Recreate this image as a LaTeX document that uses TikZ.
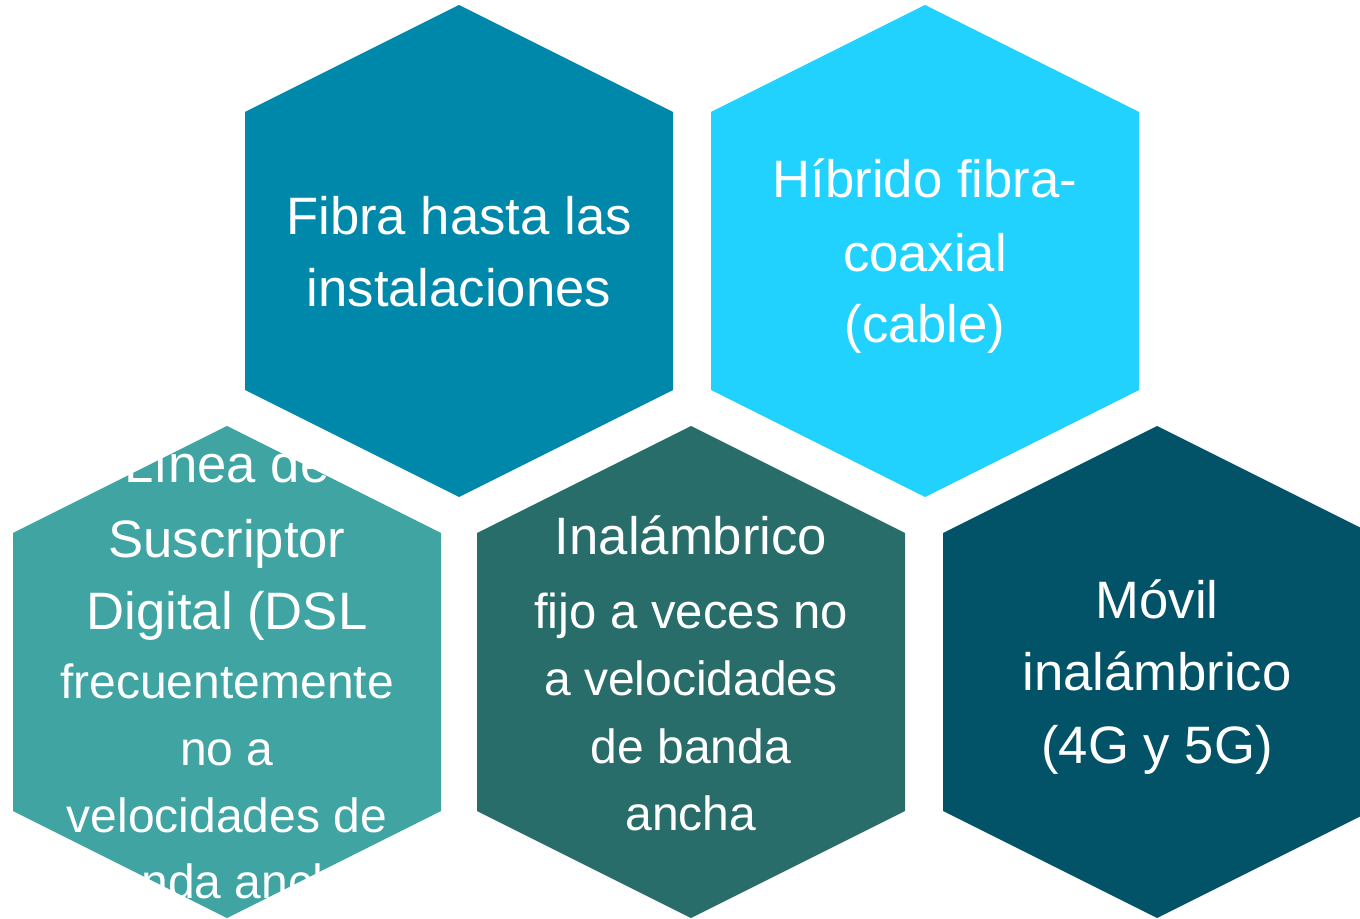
\documentclass[tikz,border=0pt]{standalone}
\usepackage{fontspec}
\setmainfont{Liberation Sans}
\definecolor{hexA}{RGB}{0,136,170}
\definecolor{hexB}{RGB}{33,210,255}
\definecolor{hexC}{RGB}{63,164,162}
\definecolor{hexD}{RGB}{41,109,106}
\definecolor{hexE}{RGB}{2,83,104}
\tikzset{
  hexa/.pic={\fill (0,-246) -- (214,-139) -- (214,139) -- (0,246) -- (-214,139) -- (-214,-139) -- cycle;},
  lbl/.style={anchor=base, inner sep=0pt, text=white, font=\fontsize{39.5}{47}\selectfont},
  lblsm/.style={lbl, font=\fontsize{36}{43}\selectfont},
  lblmd/.style={lbl, font=\fontsize{36.8}{44}\selectfont}
}
\begin{document}
\begin{tikzpicture}[x=0.75pt, y=-0.75pt]
\useasboundingbox (0,0) rectangle (1360,919);
\clip (0,0) rectangle (1360,919);
\fill[white] (0,0) rectangle (1360,919);
% hexagons
\pic[fill=hexA] at (459,251) {hexa};
\pic[fill=hexB] at (925,251) {hexa};
\pic[fill=hexC] at (227,672) {hexa};
\pic[fill=hexD] at (691,672) {hexa};
\pic[fill=hexE] at (1157,672) {hexa};
% texts: Fibra
\node[lbl] (a1) at (459,235) {Fibra hasta las};
\node[lbl] (a2) at (459,307) {instalaciones};
% Hibrido
\node[lbl] (b1) at (925,198) {Híbrido fibra-};
\node[lbl] (b2) at (925,272) {coaxial};
\node[lbl] (b3) at (925,343) {(cable)};
% Linea
\node[lbl] (c1) at (227,483) {Línea de};
\node[lbl] (c2) at (227,557) {Suscriptor};
\node[lbl] (c3) at (227,629) {Digital (DSL};
\node[lblsm] (c4) at (227,698) {frecuentemente};
\node[lblsm] (c5) at (227,765) {no a};
\node[lblsm] (c6) at (227,832) {velocidades de};
\node[lblsm] (c7) at (227,898) {banda ancha};
% Inalambrico
\node[lbl] (d1) at (691,554) {Inalámbrico};
\node[lblmd] (d2) at (691,628) {fijo a veces no};
\node[lblsm] (d3) at (691,695) {a velocidades};
\node[lblsm] (d4) at (691,763) {de banda};
\node[lblsm] (d5) at (691,830) {ancha};
% Movil
\node[lbl] (e1) at (1157,618) {Móvil};
\node[lbl] (e2) at (1157,690) {inalámbrico};
\node[lbl] (e3) at (1157,763) {(4G y 5G)};
\end{tikzpicture}
\end{document}
